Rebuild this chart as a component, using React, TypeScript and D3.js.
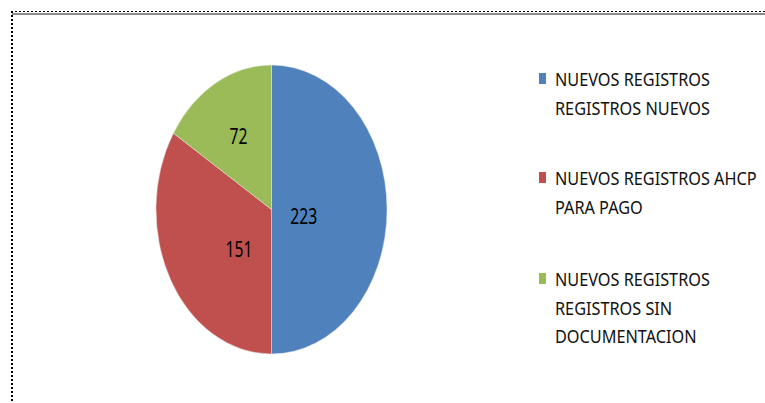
import React, { useEffect, useRef } from 'react';
import * as d3 from 'd3';

const categories = [
  ['NUEVOS REGISTROS', 'REGISTROS NUEVOS'],
  ['NUEVOS REGISTROS AHCP', 'PARA PAGO'],
  ['NUEVOS REGISTROS', 'REGISTROS SIN', 'DOCUMENTACION'],
];
const values = [223, 151, 72];
const colors = ['#4F81BD', '#C0504D', '#9BBB59'];

const FONT = '"Noto Sans", "Open Sans", sans-serif';

export default function App() {
  const svgRef = useRef<SVGSVGElement>(null);

  useEffect(() => {
    const width = 765;
    const height = 403;
    const svg = d3.select(svgRef.current);
    svg.selectAll('*').remove();

    svg.append('rect').attr('width', width).attr('height', height).attr('fill', '#fff');

    // chart area frame (gray line with dotted overlay)
    svg.append('line')
      .attr('x1', 12).attr('x2', width).attr('y1', 14).attr('y2', 14)
      .attr('stroke', '#8c8c8c').attr('stroke-width', 2);
    svg.append('line')
      .attr('x1', 11).attr('x2', width).attr('y1', 11.5).attr('y2', 11.5)
      .attr('stroke', '#000').attr('stroke-width', 1).attr('stroke-dasharray', '2,2');
    svg.append('line')
      .attr('x1', 12).attr('x2', 12).attr('y1', 11).attr('y2', height)
      .attr('stroke', '#000').attr('stroke-width', 2).attr('stroke-dasharray', '2,2');

    const cx = 271.5;
    const cy = 209.5;
    const rx = 115.5;
    const ry = 144.5;

    const pie = d3.pie<number>().sort(null).value(d => d);
    const arcs = pie(values);
    const arc = d3.arc<d3.PieArcDatum<number>>().innerRadius(0).outerRadius(ry);

    const g = svg.append('g')
      .attr('transform', `translate(${cx},${cy}) scale(${rx / ry},1)`);
    g.selectAll('path')
      .data(arcs)
      .enter()
      .append('path')
      .attr('d', arc)
      .attr('fill', (_, i) => colors[i])
      .attr('stroke', '#e8e8e8')
      .attr('stroke-width', 0.5);

    // the original is squeezed horizontally, so measure and compress text to match
    const probe = svg.append('text')
      .attr('font-family', FONT).attr('font-size', 21).text('223');
    const labelSx = 27 / (probe.node() as SVGTextElement).getComputedTextLength();
    probe.attr('font-size', 18).text('NUEVOS REGISTROS');
    const legendSx = 155 / (probe.node() as SVGTextElement).getComputedTextLength();
    probe.remove();

    // data labels: centroid on a label arc, then small nudges like Excel's placement
    const labelArc = d3.arc<d3.PieArcDatum<number>>().innerRadius(ry * 0.59).outerRadius(ry * 0.59);
    const nudge = [[-36, 6], [27, -2], [0, 1]];
    svg.append('g')
      .selectAll('text')
      .data(arcs)
      .enter()
      .append('text')
      .attr('transform', (d, i) => {
        const x = cx + labelArc.centroid(d)[0] * (rx / ry) + nudge[i][0];
        const y = cy + labelArc.centroid(d)[1] + nudge[i][1];
        return `translate(${x},${y}) scale(${labelSx},1)`;
      })
      .attr('text-anchor', 'middle')
      .attr('dominant-baseline', 'central')
      .attr('font-family', FONT)
      .attr('font-size', 21)
      .attr('fill', '#000')
      .text(d => d.data);

    // legend
    const legendX = 539;
    const groupTop = [73, 172, 273];
    const lineH = 28.5;
    const legend = svg.append('g');
    categories.forEach((lines, i) => {
      legend.append('rect')
        .attr('x', legendX).attr('y', groupTop[i])
        .attr('width', 7).attr('height', 11)
        .attr('fill', colors[i]);
      lines.forEach((t, j) => {
        legend.append('text')
          .attr('transform', `translate(${legendX + 16},${groupTop[i] + 13 + j * lineH}) scale(${legendSx},1)`)
          .attr('font-family', FONT)
          .attr('font-size', 18)
          .attr('fill', '#111')
          .text(t);
      });
    });
  }, []);

  return (
    <svg
      ref={svgRef}
      width={765}
      height={403}
      style={{ position: 'absolute', left: 0, top: 0, display: 'block' }}
    />
  );
}
